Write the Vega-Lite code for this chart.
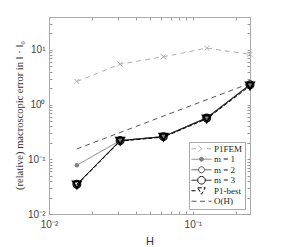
{
  "$schema": "https://vega.github.io/schema/vega-lite/v6.json",
  "width": 201,
  "height": 197,
  "autosize": "none",
  "padding": {"left": 49, "top": 17, "right": 31, "bottom": 33},
  "background": "white",
  "config": {"view": {"stroke": null}, "font": "Liberation Sans"},
  "data": {
    "values": [
      {"H": 0.015625, "s": "P1FEM", "e": 2.65},
      {"H": 0.03125, "s": "P1FEM", "e": 5.5},
      {"H": 0.0625, "s": "P1FEM", "e": 7.5},
      {"H": 0.125, "s": "P1FEM", "e": 10.8},
      {"H": 0.25, "s": "P1FEM", "e": 8.3},
      {"H": 0.015625, "s": "O(H)", "e": 0.155},
      {"H": 0.25, "s": "O(H)", "e": 2.45},
      {"H": 0.015625, "s": "m = 1", "e": 0.078},
      {"H": 0.03125, "s": "m = 1", "e": 0.22},
      {"H": 0.0625, "s": "m = 1", "e": 0.26},
      {"H": 0.125, "s": "m = 1", "e": 0.58},
      {"H": 0.25, "s": "m = 1", "e": 2.35},
      {"H": 0.015625, "s": "m = 2", "e": 0.035},
      {"H": 0.03125, "s": "m = 2", "e": 0.22},
      {"H": 0.0625, "s": "m = 2", "e": 0.26},
      {"H": 0.125, "s": "m = 2", "e": 0.57},
      {"H": 0.25, "s": "m = 2", "e": 2.3},
      {"H": 0.015625, "s": "m = 3", "e": 0.035},
      {"H": 0.03125, "s": "m = 3", "e": 0.22},
      {"H": 0.0625, "s": "m = 3", "e": 0.26},
      {"H": 0.125, "s": "m = 3", "e": 0.57},
      {"H": 0.25, "s": "m = 3", "e": 2.3},
      {"H": 0.015625, "s": "P1-best", "e": 0.034},
      {"H": 0.03125, "s": "P1-best", "e": 0.215},
      {"H": 0.0625, "s": "P1-best", "e": 0.255},
      {"H": 0.125, "s": "P1-best", "e": 0.55},
      {"H": 0.25, "s": "P1-best", "e": 2.2}
    ]
  },
  "resolve": {"axis": {"x": "independent", "y": "independent"}},
  "layer": [
    {
      "mark": {"type": "line"},
      "encoding": {
        "x": {
          "field": "H", "type": "quantitative",
          "scale": {"type": "log", "domain": [0.01, 0.25], "nice": false},
          "axis": {
            "values": [0.01, 0.02, 0.03, 0.04, 0.05, 0.06, 0.07, 0.08, 0.09, 0.1, 0.2],
            "labelExpr": "datum.value == 0.01 ? '10⁻²' : datum.value == 0.1 ? '10⁻¹' : ''",
            "tickSize": -3, "tickColor": "#999999", "domainColor": "#aaaaaa",
            "labelFont": "Liberation Sans", "labelFontSize": 10, "labelColor": "#444444",
            "labelPadding": 8, "labelFlush": false, "labelOverlap": false, "grid": false,
            "title": "H", "titleFont": "Liberation Sans", "titleFontSize": 11,
            "titleFontWeight": "normal", "titleColor": "#333333", "titleY": 21
          }
        },
        "y": {
          "field": "e", "type": "quantitative",
          "scale": {"type": "log", "domain": [0.01, 40], "nice": false},
          "axis": {
            "values": [0.01, 0.02, 0.03, 0.04, 0.05, 0.06, 0.07, 0.08, 0.09, 0.1, 0.2, 0.3, 0.4, 0.5, 0.6, 0.7, 0.8, 0.9, 1, 2, 3, 4, 5, 6, 7, 8, 9, 10, 20, 30],
            "labelExpr": "datum.value == 0.01 ? '10⁻²' : datum.value == 0.1 ? '10⁻¹' : datum.value == 1 ? '10⁰' : datum.value == 10 ? '10¹' : ''",
            "tickSize": -3, "tickColor": "#999999", "domainColor": "#aaaaaa",
            "labelFont": "Liberation Sans", "labelFontSize": 10, "labelColor": "#444444",
            "labelPadding": 7, "labelOverlap": false, "labelFlush": false, "grid": false,
            "title": "(relative) macroscopic error in ‖ · ‖₀", "titleFont": "Liberation Serif",
            "titleFontSize": 10.5, "titleFontWeight": "normal", "titleColor": "#333333",
            "titleX": -25, "titleY": 98
          }
        },
        "color": {
          "field": "s", "type": "nominal",
          "scale": {
            "domain": ["P1FEM", "m = 1", "m = 2", "m = 3", "P1-best", "O(H)"],
            "range": ["#b0b0b0", "#808080", "#555555", "#111111", "#000000", "#555555"]
          },
          "legend": {
            "title": null, "orient": "bottom-right", "offset": 5,
            "fillColor": "white", "strokeColor": "#aaaaaa", "padding": 2,
            "labelFont": "Liberation Serif", "labelFontSize": 9, "labelColor": "#222222",
            "symbolSize": 64, "rowPadding": 0.5, "clipHeight": 9.5, "labelOffset": 14,
            "encode": {
              "symbols": {
                "update": {
                  "shape": {"signal": "datum.value == 'P1FEM' ? 'M-1,0H0.125M2.875,0H4M0.75,-0.75L2.25,0.75M0.75,0.75L2.25,-0.75' : datum.value == 'm = 1' ? 'M-1,0H4M2,0A0.5,0.5 0 1 1 1,0A0.5,0.5 0 1 1 2,0' : datum.value == 'm = 2' ? 'M-1,0H0.75M2.25,0H4M2.25,0A0.75,0.75 0 1 1 0.75,0A0.75,0.75 0 1 1 2.25,0' : datum.value == 'm = 3' ? 'M-1,0H0.55M2.45,0H4M2.45,0A0.95,0.95 0 1 1 0.55,0A0.95,0.95 0 1 1 2.45,0' : datum.value == 'P1-best' ? 'M-1,0H0.4M0.55,-0.75L2.45,-0.75L1.5,0.875Z' : 'M-1,0H0.25M1.125,0H2.375M3.25,0H4'"},
                  "fill": {"signal": "datum.value == 'm = 1' ? '#808080' : 'transparent'"},
                  "strokeWidth": {"signal": "datum.value == 'P1-best' ? 2 : datum.value == 'O(H)' ? 0.8 : 1"},
                  "strokeDash": {"value": [1, 0]},
                  "opacity": {"value": 1}
                }
              }
            }
          }
        },
        "strokeDash": {
          "field": "s", "type": "nominal", "legend": null,
          "scale": {
            "domain": ["P1FEM", "m = 1", "m = 2", "m = 3", "P1-best", "O(H)"],
            "range": [[5, 4], [1, 0], [1, 0], [1, 0], [4, 2], [5, 4]]
          }
        },
        "strokeWidth": {
          "field": "s", "type": "nominal", "legend": null,
          "scale": {
            "domain": ["P1FEM", "m = 1", "m = 2", "m = 3", "P1-best", "O(H)"],
            "range": [1, 1, 1, 1.2, 1.5, 0.8]
          }
        }
      }
    },
    {
      "mark": {"type": "point", "opacity": 0},
      "encoding": {
        "x": {
          "field": "H", "type": "quantitative",
          "scale": {"type": "log", "domain": [0.01, 0.25], "nice": false},
          "axis": {
            "orient": "top", "values": [0.01, 0.02, 0.03, 0.04, 0.05, 0.06, 0.07, 0.08, 0.09, 0.1, 0.2],
            "labels": false, "title": null, "tickSize": -3, "tickColor": "#999999",
            "domainColor": "#aaaaaa", "grid": false
          }
        },
        "y": {
          "field": "e", "type": "quantitative",
          "scale": {"type": "log", "domain": [0.01, 40], "nice": false},
          "axis": {
            "orient": "right",
            "values": [0.01, 0.02, 0.03, 0.04, 0.05, 0.06, 0.07, 0.08, 0.09, 0.1, 0.2, 0.3, 0.4, 0.5, 0.6, 0.7, 0.8, 0.9, 1, 2, 3, 4, 5, 6, 7, 8, 9, 10, 20, 30],
            "labels": false, "title": null, "tickSize": -3, "tickColor": "#999999",
            "domainColor": "#aaaaaa", "grid": false
          }
        }
      }
    },
    {
      "transform": [{"filter": "datum.s == 'P1FEM'"}],
      "mark": {"type": "point", "shape": "M-1,-1L1,1M-1,1L1,-1", "size": 25, "filled": false, "color": "#b0b0b0", "strokeWidth": 1, "opacity": 1},
      "encoding": {
        "x": {"field": "H", "type": "quantitative", "scale": {"type": "log", "domain": [0.01, 0.25], "nice": false}, "axis": null},
        "y": {"field": "e", "type": "quantitative", "scale": {"type": "log", "domain": [0.01, 40], "nice": false}, "axis": null}
      }
    },
    {
      "transform": [{"filter": "datum.s == 'm = 1'"}],
      "mark": {"type": "point", "shape": "circle", "size": 20, "filled": true, "color": "#808080", "opacity": 1},
      "encoding": {
        "x": {"field": "H", "type": "quantitative", "scale": {"type": "log", "domain": [0.01, 0.25], "nice": false}, "axis": null},
        "y": {"field": "e", "type": "quantitative", "scale": {"type": "log", "domain": [0.01, 40], "nice": false}, "axis": null}
      }
    },
    {
      "transform": [{"filter": "datum.s == 'm = 2'"}],
      "mark": {"type": "point", "shape": "circle", "size": 36, "filled": false, "color": "#555555", "strokeWidth": 1, "opacity": 1},
      "encoding": {
        "x": {"field": "H", "type": "quantitative", "scale": {"type": "log", "domain": [0.01, 0.25], "nice": false}, "axis": null},
        "y": {"field": "e", "type": "quantitative", "scale": {"type": "log", "domain": [0.01, 40], "nice": false}, "axis": null}
      }
    },
    {
      "transform": [{"filter": "datum.s == 'm = 3'"}],
      "mark": {"type": "point", "shape": "circle", "size": 60, "filled": false, "color": "#111111", "strokeWidth": 1.2, "opacity": 1},
      "encoding": {
        "x": {"field": "H", "type": "quantitative", "scale": {"type": "log", "domain": [0.01, 0.25], "nice": false}, "axis": null},
        "y": {"field": "e", "type": "quantitative", "scale": {"type": "log", "domain": [0.01, 40], "nice": false}, "axis": null}
      }
    },
    {
      "transform": [{"filter": "datum.s == 'P1-best'"}],
      "mark": {"type": "point", "shape": "triangle-down", "size": 60, "filled": false, "color": "#000000", "strokeWidth": 2, "opacity": 1},
      "encoding": {
        "x": {"field": "H", "type": "quantitative", "scale": {"type": "log", "domain": [0.01, 0.25], "nice": false}, "axis": null},
        "y": {"field": "e", "type": "quantitative", "scale": {"type": "log", "domain": [0.01, 40], "nice": false}, "axis": null}
      }
    }
  ]
}
